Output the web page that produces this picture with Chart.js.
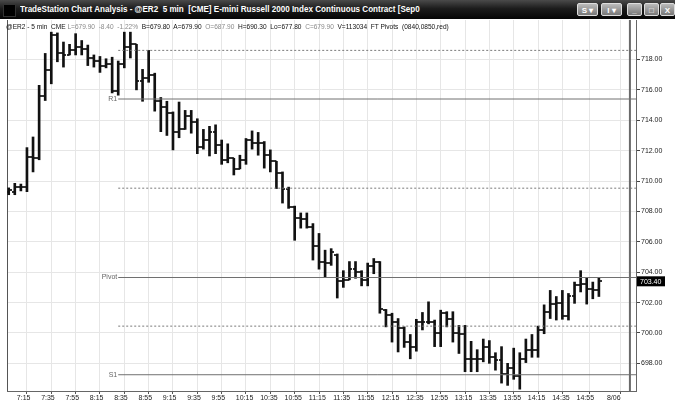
<!DOCTYPE html>
<html>
<head>
<meta charset="utf-8">
<script src="https://cdn.jsdelivr.net/npm/chart.js@4.4.1/dist/chart.umd.min.js"></script>
<style>
html, body { margin: 0; padding: 0; background: #fff; }
#wrap { position: relative; width: 675px; height: 403px; overflow: hidden; background: #fff; }
#c { position: absolute; left: 0; top: 0; }
#tb { position: absolute; left: 0; top: 0; width: 675px; height: 19px;
  background: linear-gradient(#4a4a4a, #1c1c1c 45%, #050505); }
#ico { position: absolute; left: 3px; top: 4px; width: 11px; height: 11px; background: #000; border: 1px solid #333; }
#tt { position: absolute; left: 20px; top: 3px; color: #fff; font: bold 9.5px "Liberation Sans", Arial, sans-serif;
  white-space: pre; transform: scaleX(0.85); transform-origin: 0 0; }
.b { position: absolute; top: 3px; height: 13px; border: 1px solid #ddd; border-radius: 2px;
  background: linear-gradient(#bbb, #777); color: #fff; font: bold 8px "Liberation Sans", Arial, sans-serif;
  text-align: center; line-height: 13px; box-sizing: border-box; }
#st { position: absolute; left: 6px; top: 22px; font: 7.3px "Liberation Sans", Arial, sans-serif; color: #111;
  white-space: pre; transform: scaleX(0.9); transform-origin: 0 0; }
#st .g { color: #8a8a8a; }
</style>
</head>
<body>
<div id="wrap">
  <canvas id="c" width="675" height="403"></canvas>
  <div id="tb">
    <div id="ico"></div>
    <span id="tt">TradeStation Chart Analysis - @ER2  5 min  [CME] E-mini Russell 2000 Index Continuous Contract [Sep0</span>
    <div class="b" style="left:577px;width:21px">S ▾</div>
    <div class="b" style="left:601px;width:21px">I ▾</div>
    <div class="b" style="left:627px;width:15px">_</div>
    <div class="b" style="left:644px;width:15px">□</div>
    <div class="b" style="left:660px;width:15px">X</div>
  </div>
  <div id="st">@ER2 - 5 min  CME <span class="g">L=679.90  -8.40  -1.22%</span>  B=679.80  A=679.90  <span class="g">O=687.90</span>  H=690.30  Lo=677.80  <span class="g">C=679.90</span>  V=113034  FT Pivots  (0840,0850,red)</div>
</div>
<script>
// 5 min bars, bar 0 = 7:10
const opens = [709.3, 709.3, 709.6, 709.6, 711.6, 711.5, 715.6, 717.3, 719.6, 718.4,
  718.3, 718.6, 718.8, 718.7, 718.1, 717.9, 717.6, 717.7, 715.9, 717.7,
  718.8, 719.0, 716.6, 716.8, 717.0, 715.3, 714.9, 714.45, 713.25, 713.45,
  714.3, 713.9, 712.25, 712.7, 713.2, 712.35, 711.4, 711.5, 710.8, 711.4,
  712.7, 712.5, 712.5, 711.7, 711.3, 710.5, 709.5, 708.3, 707.6, 707.5,
  707.0, 705.7, 704.7, 704.6, 705.1, 703.4, 703.5, 704.2, 704.0, 703.5,
  704.4, 704.7, 701.5, 701.2, 700.7, 700.3, 699.4, 699.1, 700.7, 700.75,
  700.7, 700.0, 701.3, 700.9, 700.0, 699.9, 698.3, 698.3, 698.3, 699.1,
  698.4, 698.2, 697.3, 697.7, 697.2, 698.3, 698.9, 698.9, 700.2, 701.4,
  701.9, 702.0, 701.1, 702.45, 703.15, 703.25, 702.9, 702.8];
const highs = [709.55, 709.85, 709.8, 712.2, 712.9, 716.3, 718.4, 719.8, 719.75, 719.15,
  719.0, 719.7, 719.25, 718.95, 718.3, 718.2, 718.05, 718.15, 717.9, 719.8,
  719.8, 719.0, 717.35, 718.6, 717.1, 715.5, 715.25, 714.55, 715.2, 714.65,
  714.65, 714.1, 713.4, 713.6, 713.7, 712.7, 712.45, 711.5, 711.7, 712.8,
  713.3, 713.2, 712.6, 712.05, 711.3, 710.6, 709.6, 708.35, 707.9, 707.9,
  707.2, 706.55, 705.45, 705.55, 705.2, 704.1, 704.7, 704.7, 704.1, 704.6,
  704.9, 704.7, 701.55, 701.3, 700.95, 700.4, 699.9, 700.9, 701.35, 702.05,
  700.85, 701.5, 701.4, 701.4, 700.5, 700.5, 699.45, 698.9, 699.6, 699.5,
  698.7, 699.1, 698.0, 699.0, 698.7, 699.6, 699.9, 700.45, 701.85, 702.8,
  702.4, 702.8, 702.6, 703.35, 704.1, 703.6, 703.35, 703.6];
const lows = [709.1, 709.1, 709.35, 709.3, 710.6, 711.4, 715.3, 716.4, 717.85, 717.5,
  718.3, 718.3, 718.3, 717.6, 717.5, 717.15, 717.45, 715.8, 715.65, 717.45,
  718.1, 716.0, 715.25, 716.5, 714.6, 713.25, 713.0, 712.05, 712.85, 713.4,
  713.15, 711.8, 712.1, 711.65, 711.8, 711.1, 711.2, 710.4, 710.8, 711.1,
  712.1, 711.7, 710.85, 710.6, 709.5, 708.55, 708.2, 706.1, 706.9, 706.9,
  704.8, 704.2, 703.65, 704.45, 702.3, 703.0, 703.5, 703.6, 703.1, 703.1,
  703.9, 701.3, 700.4, 699.4, 698.75, 699.05, 698.3, 698.8, 700.2, 700.6,
  699.1, 699.1, 700.4, 699.4, 698.65, 697.45, 697.45, 697.45, 698.1, 698.0,
  697.55, 696.7, 696.55, 696.95, 696.3, 698.05, 698.4, 698.4, 699.95, 700.95,
  700.85, 700.9, 700.85, 701.95, 702.7, 701.9, 702.25, 702.4];
const closes = [709.4, 709.6, 709.6, 711.6, 711.5, 715.6, 717.3, 719.6, 718.4, 718.3,
  718.65, 718.8, 718.7, 718.1, 717.9, 717.6, 717.7, 715.9, 717.7, 718.8,
  719.0, 716.6, 716.8, 717.0, 715.3, 714.9, 714.45, 713.25, 713.45, 714.3,
  713.9, 712.25, 712.7, 713.2, 712.35, 711.4, 711.5, 710.8, 711.4, 712.7,
  712.5, 712.5, 711.7, 711.3, 710.5, 709.5, 708.3, 707.6, 707.5, 707.0,
  705.7, 704.7, 704.6, 705.3, 703.4, 703.5, 704.2, 704.0, 703.5, 704.4,
  704.7, 701.6, 701.2, 700.7, 700.3, 699.4, 699.1, 700.7, 700.75, 700.7,
  700.0, 701.3, 700.9, 700.0, 699.9, 698.3, 698.3, 698.3, 699.1, 698.4,
  698.2, 697.3, 697.7, 697.2, 698.3, 698.9, 698.9, 700.2, 701.4, 701.9,
  702.0, 701.1, 702.45, 703.15, 703.25, 702.9, 702.8, 703.4];

const timeLabels = ['7:15', '7:35', '7:55', '8:15', '8:35', '8:55', '9:15', '9:35', '9:55', '10:15',
  '10:35', '10:55', '11:15', '11:35', '11:55', '12:15', '12:35', '12:55', '13:15', '13:35',
  '13:55', '14:15', '14:35', '14:55', '8/06'];
const timeBars = [1, 5, 9, 13, 17, 21, 25, 29, 33, 37, 41, 45, 49, 53, 57, 61, 65, 69, 73, 77,
  81, 85, 89, 93, 98];
const priceTicks = [698, 700, 702, 704, 706, 708, 710, 712, 714, 716, 718];

const pivotNames = ['R1', 'Pivot', 'S1'];
const pivotLevels = [715.40, 703.65, 697.25];
const midLevels = [718.60, 709.53, 700.45];
const pivotStart = 18;      // 8:40 bar
const cursorBar = 102.1;

const xMin = -0.28, xMax = 103.1;
const yMin = 696.18, yMax = 720.6;

function tickImg(left) {
  const c = document.createElement('canvas');
  c.width = 6; c.height = 2;
  const g = c.getContext('2d');
  g.fillStyle = '#333';
  if (left) g.fillRect(0, 0, 3, 2); else g.fillRect(3, 0, 3, 2);
  return c;
}
const openImg = tickImg(true), closeImg = tickImg(false);

const datasets = [];
pivotLevels.forEach(v => {
  datasets.push({ type: 'line', data: [{ x: pivotStart, y: v }, { x: xMax, y: v }],
    borderColor: '#707070', borderWidth: 1, pointRadius: 0 });
});
midLevels.forEach(v => {
  datasets.push({ type: 'line', data: [{ x: pivotStart, y: v }, { x: xMax, y: v }],
    borderColor: '#7a7a7a', borderWidth: 1, borderDash: [2, 2], pointRadius: 0 });
});
datasets.push({ type: 'line', data: [{ x: cursorBar, y: yMin }, { x: cursorBar, y: yMax }],
  borderColor: '#6a6a6a', borderWidth: 2, pointRadius: 0 });
datasets.push({ type: 'bar', data: highs.map((h, i) => ({ x: i, y: [lows[i], h] })),
  backgroundColor: '#111', barThickness: 2, grouped: false });
datasets.push({ type: 'line', showLine: false, data: opens.map((o, i) => ({ x: i, y: o })),
  pointStyle: openImg, pointRadius: 3, pointHoverRadius: 3 });
datasets.push({ type: 'line', showLine: false, data: closes.map((c, i) => ({ x: i, y: c })),
  pointStyle: closeImg, pointRadius: 3, pointHoverRadius: 3 });

const extras = {
  id: 'extras',
  beforeDatasetsDraw(chart) {
    const { ctx, chartArea: a } = chart;
    ctx.save();
    ctx.strokeStyle = '#555';
    ctx.lineWidth = 1;
    ctx.beginPath();
    ctx.moveTo(a.left + 0.5, a.top);
    ctx.lineTo(a.left + 0.5, a.bottom);
    ctx.stroke();
    ctx.restore();
  },
  afterDatasetsDraw(chart) {
    const { ctx, chartArea: a, scales } = chart;
    const x = scales.x, y = scales.y;
    ctx.save();
    ctx.font = '7px "Liberation Sans", Arial, sans-serif';
    ctx.fillStyle = '#666';
    ctx.textAlign = 'right';
    ctx.textBaseline = 'middle';
    const xs = x.getPixelForValue(pivotStart) - 1;
    pivotNames.forEach((n, i) => ctx.fillText(n, xs, y.getPixelForValue(pivotLevels[i])));
    // last price box
    const last = closes[closes.length - 1];
    const py = y.getPixelForValue(last);
    ctx.fillStyle = '#000';
    ctx.fillRect(a.right + 1, py - 5, 28, 10);
    ctx.fillStyle = '#fff';
    ctx.textAlign = 'left';
    ctx.fillText(last.toFixed(2), a.right + 4, py + 0.5);
    ctx.restore();
  }
};

new Chart(document.getElementById('c'), {
  data: { datasets: datasets },
  options: {
    responsive: false,
    animation: false,
    events: [],
    layout: { padding: { top: 20, left: 7, right: 0, bottom: 0 } },
    plugins: { legend: { display: false }, tooltip: { enabled: false } },
    scales: {
      x: {
        type: 'linear', min: xMin, max: xMax, offset: false,
        afterBuildTicks: s => { s.ticks = timeBars.map(v => ({ value: v })); },
        afterFit: s => { s.height = 12; },
        grid: { color: '#e6e6e6', tickColor: '#555', tickLength: 3 },
        border: { color: '#666' },
        ticks: {
          autoSkip: false, maxRotation: 0, align: 'start', labelOffset: 2, padding: 0,
          color: '#222', font: { family: '"Liberation Sans", Arial', size: 7 },
          callback: v => timeLabels[timeBars.indexOf(v)]
        }
      },
      y: {
        position: 'right', min: yMin, max: yMax,
        afterBuildTicks: s => { s.ticks = priceTicks.map(v => ({ value: v })); },
        afterFit: s => { s.width = 39; },
        grid: { color: '#e6e6e6', tickColor: '#444', tickLength: 4 },
        border: { color: '#666' },
        ticks: {
          padding: 1, color: '#222', font: { family: '"Liberation Sans", Arial', size: 7 },
          callback: v => Number(v).toFixed(2)
        }
      }
    }
  },
  plugins: [extras]
});
</script>
</body>
</html>
